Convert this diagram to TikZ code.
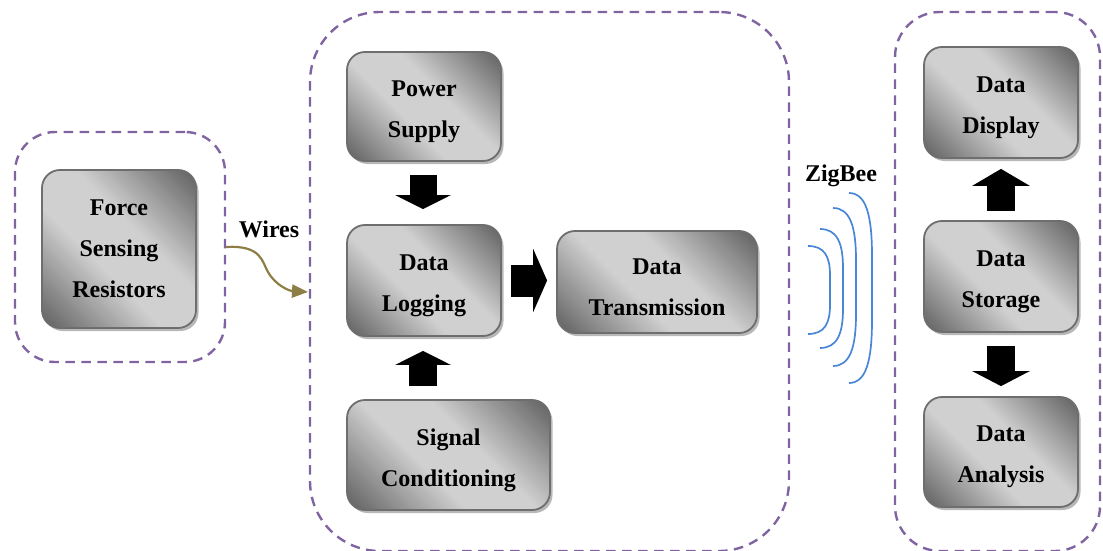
\documentclass[tikz,border=0pt]{standalone}
\usepackage{fontspec}
\setmainfont{Liberation Serif}
\usetikzlibrary{arrows.meta,shadows}
\definecolor{bdark}{HTML}{5C5C5C}
\definecolor{blight}{HTML}{D0D0D0}
\definecolor{bborder}{HTML}{6E6E6E}
\definecolor{cpurple}{HTML}{8064A2}
\definecolor{wolive}{HTML}{8C7E45}
\definecolor{wblue}{HTML}{4A86D6}
\pgfdeclarehorizontalshading{boxsh}{100bp}{color(0bp)=(bdark); color(14bp)=(bdark); color(42bp)=(blight); color(58bp)=(blight); color(86bp)=(bdark); color(100bp)=(bdark)}
\begin{document}
\begin{tikzpicture}[x=1pt,y=-1pt,
  blk/.style={rectangle, rounded corners=18pt, draw=bborder, line width=1.8pt,
    shading=boxsh, shading angle=45, inner sep=0pt,
    drop shadow={shadow xshift=2.5pt, shadow yshift=-3pt, fill=black!28, opacity=1}},
  txt/.style={align=center, inner sep=0pt, yshift=-5pt, font=\fontsize{24}{41}\selectfont\bfseries},
  cont/.style={rectangle, draw=cpurple, line width=2.4pt, dash pattern=on 9.5pt off 6.5pt, inner sep=0pt},
  lbl/.style={font=\fontsize{24}{28}\selectfont\bfseries}
]
\clip (0,0) rectangle (1103,551);
% containers
\node[cont, rounded corners=40pt, minimum width=210pt, minimum height=230pt] (lc) at (120,247) {};
\node[cont, rounded corners=70pt, minimum width=479pt, minimum height=539pt] (mc) at (549.5,281.5) {};
\node[cont, rounded corners=45pt, minimum width=205pt, minimum height=539pt] (rc) at (997.5,281.5) {};
% boxes
\node[blk, minimum width=154pt, minimum height=158pt] (fsr) at (119,249) {};
\node[blk, minimum width=154pt, minimum height=109pt] (ps) at (424,106.5) {};
\node[blk, minimum width=154pt, minimum height=111pt] (dl) at (424,280.5) {};
\node[blk, minimum width=203pt, minimum height=110pt] (sc) at (448.5,455) {};
\node[blk, minimum width=200pt, minimum height=102pt] (dt) at (657,282) {};
\node[blk, minimum width=154pt, minimum height=111pt] (dd) at (1001,102.5) {};
\node[blk, minimum width=154pt, minimum height=111pt] (ds) at (1001,276.5) {};
\node[blk, minimum width=154pt, minimum height=110pt] (da) at (1001,452) {};
\node[txt, yshift=5pt] (fsr-t) at (fsr) {Force\\Sensing\\Resistors};
\node[txt] (ps-t) at (ps) {Power\\Supply};
\node[txt] (dl-t) at (dl) {Data\\Logging};
\node[txt] (sc-t) at (sc) {Signal\\Conditioning};
\node[txt] (dt-t) at (dt) {Data\\Transmission};
\node[txt] (dd-t) at (dd) {Data\\Display};
\node[txt] (ds-t) at (ds) {Data\\Storage};
\node[txt] (da-t) at (da) {Data\\Analysis};
% labels
\node[lbl] (wl) at (269,229) {Wires};
\node[lbl] (zl) at (841,176) {ZigBee};
% block arrows
\draw[line width=27pt, draw=black, shorten <=13pt, shorten >=15pt, -{Triangle[width=55pt,length=14pt]}] (ps.south -| 423,0) -- (dl.north -| 423,0);
\draw[line width=28pt, draw=black, shorten <=13pt, shorten >=14pt, -{Triangle[width=55pt,length=14pt]}] (sc.north -| 423,0) -- (dl.south -| 423,0);
\draw[line width=32pt, draw=black, shorten <=9pt, shorten >=9pt, -{Triangle[width=63pt,length=14pt]}] (dl.east) -- (dl.east -| dt.west);
\draw[line width=28pt, draw=black, shorten <=9pt, shorten >=10pt, -{Triangle[width=57pt,length=17pt]}] (ds.north) -- (dd.south);
\draw[line width=28pt, draw=black, shorten <=13pt, shorten >=10pt, -{Triangle[width=57pt,length=15pt]}] (ds.south) -- (da.north);
% wires
\coordinate (wend) at (308,292);
\draw[wolive, line width=2.2pt, -{Triangle[width=13pt,length=16pt]}] (lc.east) .. controls (262,245) and (262,262) .. (268,272) .. controls (276,286) and (290,291) .. (wend);
% zigbee waves
\foreach \xs/\yt/\yb/\xr in {808/246/334/830, 820/229/348/843, 833/208/366/856, 849/193/383/872}{
  \pgfmathsetmacro{\h}{\yb-\yt}
  \pgfmathsetmacro{\ya}{\yt+0.33*\h}
  \pgfmathsetmacro{\yc}{\yb-0.33*\h}
  \draw[wblue, line width=1.7pt] (\xs,\yt) .. controls (\xs+0.75*\xr-0.75*\xs,\yt) and (\xr,\yt+0.12*\h) .. (\xr,\ya) -- (\xr,\yc) .. controls (\xr,\yb-0.12*\h) and (\xs+0.75*\xr-0.75*\xs,\yb) .. (\xs,\yb);
}
\end{tikzpicture}
\end{document}
